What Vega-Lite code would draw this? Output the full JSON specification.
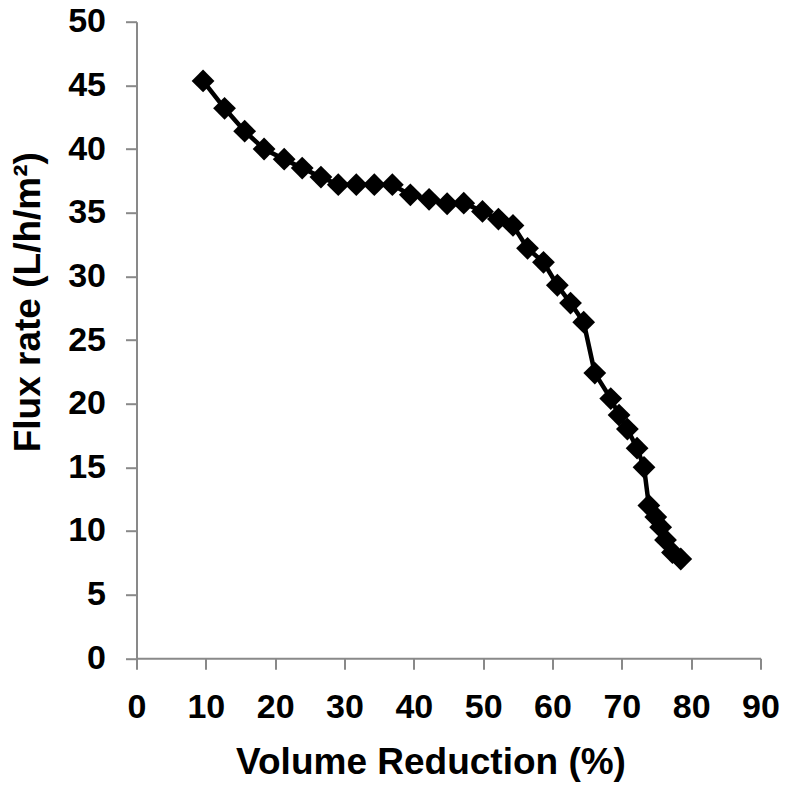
{
  "$schema": "https://vega.github.io/schema/vega-lite/v6.json",
  "autosize": "none",
  "width": 624,
  "height": 636.6,
  "padding": {"left": 136.5, "top": 21.7, "right": 25.5, "bottom": 127.7},
  "background": "white",
  "config": {"view": {"stroke": null}},
  "data": {"values": [
    {"vr": 9.6, "flux": 45.35},
    {"vr": 12.7, "flux": 43.2},
    {"vr": 15.6, "flux": 41.4},
    {"vr": 18.4, "flux": 40.0},
    {"vr": 21.3, "flux": 39.2},
    {"vr": 23.9, "flux": 38.5},
    {"vr": 26.6, "flux": 37.8},
    {"vr": 29.1, "flux": 37.2},
    {"vr": 31.7, "flux": 37.2},
    {"vr": 34.3, "flux": 37.2},
    {"vr": 36.9, "flux": 37.2},
    {"vr": 39.5, "flux": 36.4},
    {"vr": 42.2, "flux": 36.05},
    {"vr": 44.8, "flux": 35.7},
    {"vr": 47.2, "flux": 35.75},
    {"vr": 49.9, "flux": 35.1},
    {"vr": 52.2, "flux": 34.5},
    {"vr": 54.3, "flux": 34.0},
    {"vr": 56.4, "flux": 32.2},
    {"vr": 58.7, "flux": 31.1},
    {"vr": 60.7, "flux": 29.3},
    {"vr": 62.6, "flux": 27.9},
    {"vr": 64.5, "flux": 26.4},
    {"vr": 66.1, "flux": 22.4},
    {"vr": 68.4, "flux": 20.4},
    {"vr": 69.6, "flux": 19.1},
    {"vr": 70.8, "flux": 18.0},
    {"vr": 72.2, "flux": 16.5},
    {"vr": 73.2, "flux": 15.0},
    {"vr": 73.9, "flux": 12.0},
    {"vr": 74.9, "flux": 11.1},
    {"vr": 75.6, "flux": 10.3},
    {"vr": 76.3, "flux": 9.3},
    {"vr": 77.3, "flux": 8.3},
    {"vr": 78.5, "flux": 7.8}
  ]},
  "mark": {
    "type": "line",
    "color": "black",
    "strokeWidth": 4.5,
    "point": {"shape": "diamond", "size": 520, "filled": true, "color": "black", "opacity": 1}
  },
  "encoding": {
    "x": {
      "field": "vr", "type": "quantitative",
      "scale": {"domain": [0, 90], "nice": false, "zero": false},
      "axis": {
        "title": "Volume Reduction (%)",
        "values": [0, 10, 20, 30, 40, 50, 60, 70, 80, 90],
        "grid": false,
        "domainColor": "#898989", "domainWidth": 2,
        "tickColor": "#898989", "tickWidth": 2, "tickSize": 11,
        "labelFont": "Liberation Sans", "labelFontWeight": "bold", "labelFontSize": 34, "labelColor": "black",
        "labelPadding": 21, "labelFlush": false, "labelOverlap": false,
        "titleFont": "Liberation Sans", "titleFontWeight": "bold", "titleFontSize": 37, "titleColor": "black",
        "titleX": 294, "titleY": 115, "titleAlign": "center", "titleBaseline": "alphabetic"
      }
    },
    "y": {
      "field": "flux", "type": "quantitative",
      "scale": {"domain": [0, 50], "nice": false},
      "axis": {
        "title": "Flux rate (L/h/m²)",
        "values": [0, 5, 10, 15, 20, 25, 30, 35, 40, 45, 50],
        "grid": false,
        "domainColor": "#898989", "domainWidth": 2,
        "tickColor": "#898989", "tickWidth": 2, "tickSize": 11,
        "labelFont": "Liberation Sans", "labelFontWeight": "bold", "labelFontSize": 34, "labelColor": "black",
        "labelPadding": 20, "labelFlush": false, "labelOverlap": false,
        "titleFont": "Liberation Sans", "titleFontWeight": "bold", "titleFontSize": 37, "titleColor": "black",
        "titleX": -108, "titleY": 280, "titleAlign": "center", "titleBaseline": "middle"
      }
    }
  }
}
